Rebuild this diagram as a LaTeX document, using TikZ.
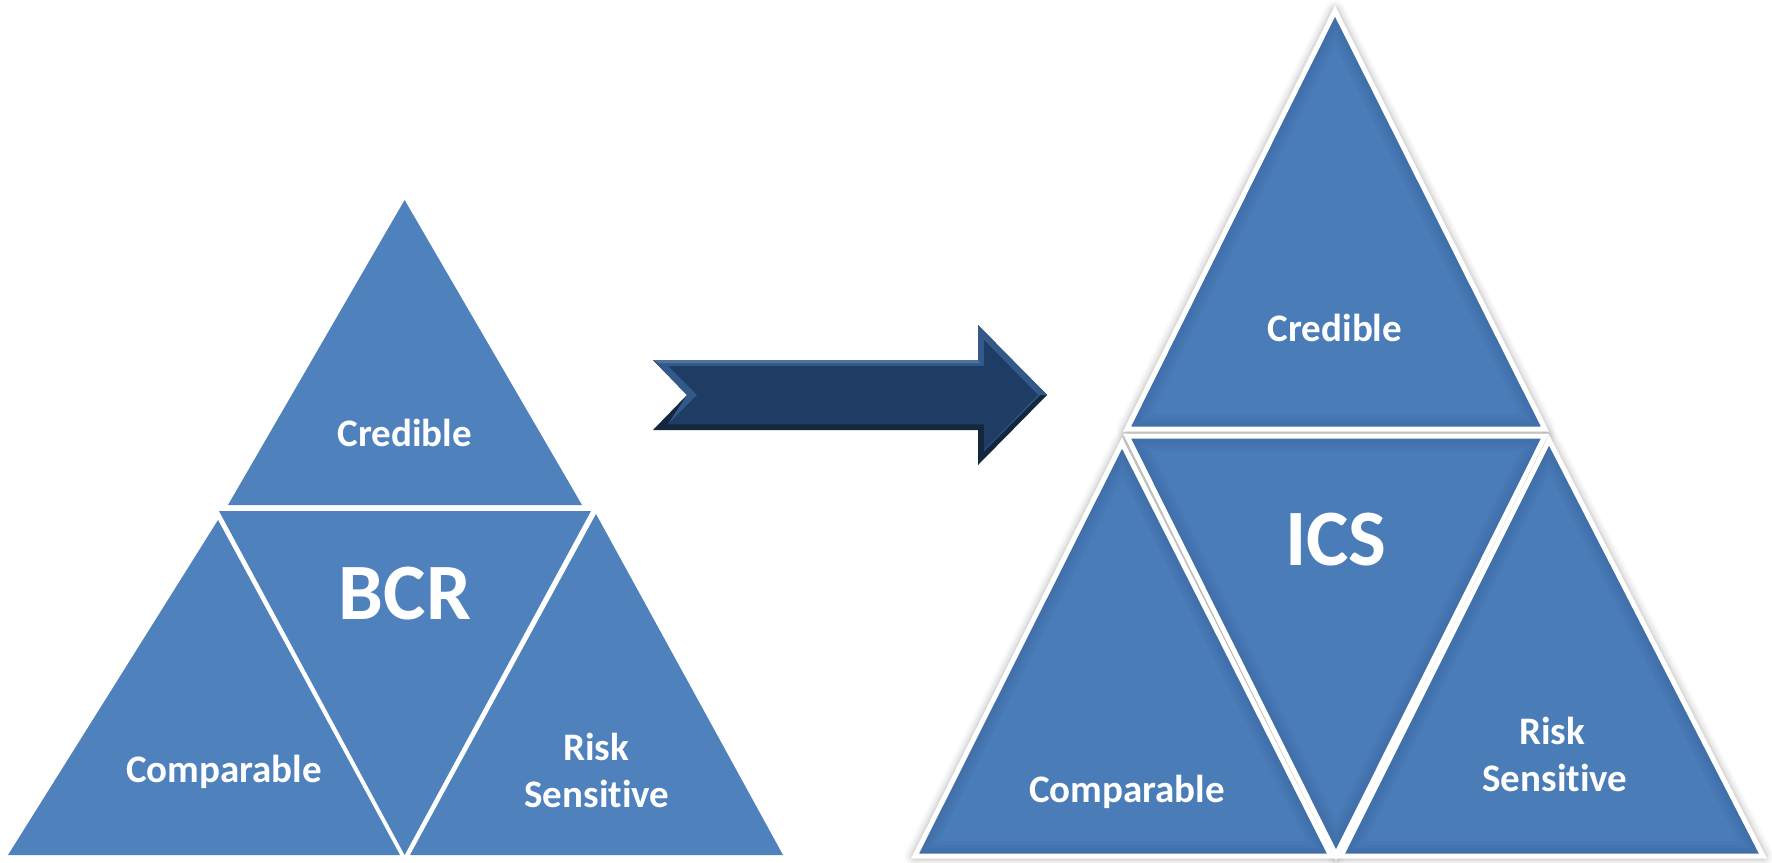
\documentclass[tikz,border=0pt]{standalone}
\usepackage{fontspec}
\setmainfont{Carlito}[Ligatures=NoCommon]
\usetikzlibrary{calc}
\definecolor{flatblue}{HTML}{4F81BD}
\definecolor{bevblue}{HTML}{4A7CB8}
\definecolor{bevdark}{HTML}{2F5A8E}
\definecolor{arrowblue}{HTML}{1F3D64}
\definecolor{arrowrim}{HTML}{33598A}
\definecolor{arrowdark}{HTML}{14273F}
\tikzset{
  flattri/.style={fill=flatblue, draw=none},
  label/.style={text=white, font=\bfseries\fontsize{39}{45}\selectfont, align=center, anchor=base, inner sep=0pt},
  biglabel/.style={text=white, font=\bfseries\fontsize{80}{90}\selectfont, anchor=base, inner sep=0pt},
}
% soft shadow under a triangle
\newcommand{\trishadow}[3]{%
  \foreach \w/\o in {20/0.03,15/0.04,10/0.06,6/0.08}{
    \draw[black, opacity=\o, line width=\w pt, line join=round] #1 -- #2 -- #3 -- cycle;
  }
}
% bevelled triangle with white rim
\newcommand{\bevtri}[3]{%
  \fill[bevblue] #1 -- #2 -- #3 -- cycle;
  \begin{scope}
    \clip #1 -- #2 -- #3 -- cycle;
    \foreach \w in {30,22,16,10}{
      \draw[bevdark, opacity=0.09, line width=\w pt] #1 -- #2 -- #3 -- cycle;
    }
  \end{scope}
  \draw[white, line width=5pt, line join=miter] #1 -- #2 -- #3 -- cycle;
}
\begin{document}
\begin{tikzpicture}[x=1pt, y=-1pt]
\useasboundingbox (0,0) rectangle (1772,862);

% ---------- left pyramid (BCR) ----------
\fill[flattri] (404.6,200) -- (582,505) -- (228,505) -- cycle;
\fill[flattri] (219,511) -- (591,511) -- (404.6,855) -- cycle;
\fill[flattri] (218,520) -- (400,855) -- (8,855) -- cycle;
\fill[flattri] (596,514) -- (783,855) -- (410,855) -- cycle;

\node[label]    (lcred) at (404.6,446) {Credible};
\node[biglabel] (lbcr)  at (405,619)   {BCR};
\node[label]    (lcomp) at (224,782)   {Comparable};
\node[label]    (lrisk) at (596,760)   {Risk};
\node[label]    (lsens) at (597,807)   {Sensit\kern0pt ive};

% ---------- arrow ----------
\coordinate (ta) at (653,360);
\coordinate (tb) at (653,430);
\coordinate (tn) at (687,395);
\coordinate (hs1) at (978,360);
\coordinate (ht) at (978,325);
\coordinate (tip) at (1047,395);
\coordinate (hb) at (978,465);
\coordinate (hs2) at (978,430);
% dark lower rim
\fill[arrowdark] (ta) -- (hs1) -- (ht) -- (tip) -- (hb) -- (hs2) -- (tb) -- (tn) -- cycle;
% lighter upper rim
\fill[arrowrim] (ta) -- (hs1) -- (ht) -- (tip) -- (1040,395) -- (984,451) -- (984,424) -- (668,424) -- (tn) -- cycle;
% face
\fill[arrowblue] (668,366) -- (984,366) -- (984,340) -- (1038,395) -- (984,450) -- (984,424) -- (668,424) -- (697,395) -- cycle;
% highlight along the top of the shaft
\fill[arrowrim!70!white, opacity=0.5] (ta) -- (hs1) -- (980,363) -- (659,363) -- cycle;

% ---------- right pyramid (ICS) ----------
\trishadow{(1335,11)}{(1545,429)}{(1127,429)}
\trishadow{(1127,436)}{(1545,436)}{(1336,855)}
\trishadow{(1122,443)}{(1331,856)}{(915,856)}
\trishadow{(1549,440)}{(1763,856)}{(1341,856)}
\bevtri{(1335,11)}{(1545,429)}{(1127,429)}
\bevtri{(1127,436)}{(1545,436)}{(1336,855)}
\bevtri{(1122,443)}{(1331,856)}{(915,856)}
\bevtri{(1549,440)}{(1763,856)}{(1341,856)}

\node[label]    (rcred) at (1335,341) {Credible};
\node[biglabel] (rics)  at (1336,565) {ICS};
\node[label]    (rcomp) at (1127,802) {Comparable};
\node[label]    (rrisk) at (1552,744) {Risk};
\node[label]    (rsens) at (1555,791) {Sensit\kern0pt ive};
\end{tikzpicture}
\end{document}
